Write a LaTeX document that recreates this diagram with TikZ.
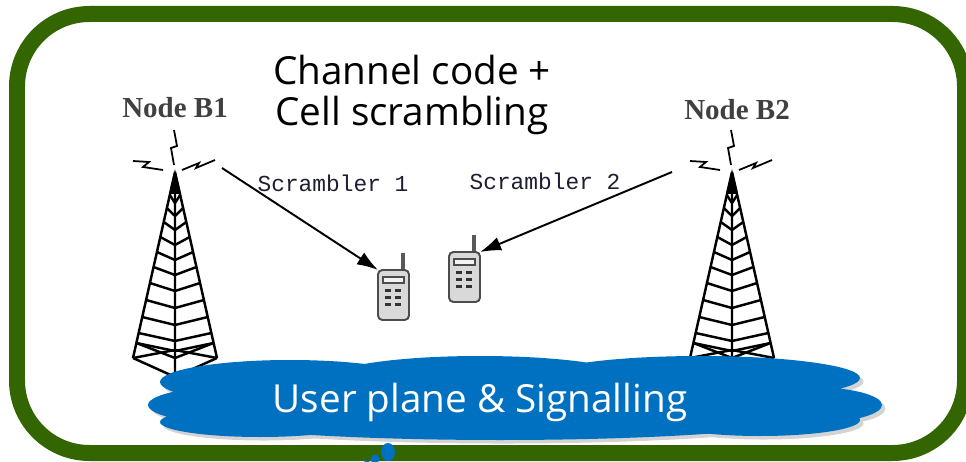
\documentclass[tikz,border=0pt]{standalone}
\usepackage{fontspec}
\usetikzlibrary{arrows.meta, shadows}

\newfontfamily\titlefont{Open Sans}
\newfontfamily\towerfont{Liberation Serif}
\newfontfamily\codefont{Liberation Mono}

\definecolor{framegreen}{RGB}{51,102,0}
\definecolor{cloudblue}{RGB}{0,112,192}
\definecolor{codeink}{RGB}{30,30,50}

\tikzset{
  mast/.style={line width=1.4pt, line join=round},
  link/.style={line width=1.1pt, -{Latex[length=12pt,width=8pt]}},
  % radio mast with its three little signal bolts
  tower/.pic={
    \coordinate (-top) at (0,0);
    \draw[mast] (0,0) -- (-42,186) (0,0) -- (42,186) (0,0) -- (0,205);
    \fill (0,-3) -- (-6,22) -- (6,22) -- cycle;
    \foreach \y in {23,36,50,65,80,95,111,128,145,161,171}
      \draw[mast] ({-42*\y/186},\y) -- (0,\y+8) -- ({42*\y/186},\y);
    \draw[mast] ({-42*171/186},171) -- (0,186) -- ({42*171/186},171);
    \draw[mast] (-42,186) -- (0,178) -- (42,186);
    \draw[mast] (-42,186) -- (0,205) -- (42,186);
    \draw[line width=1pt] (-1,-42) -- (2,-26) -- (-4,-24) -- (-1,-7);
    \draw[line width=1pt] (-42,-11) -- (-26,-10) -- (-32,-5) -- (-12,-2);
    \draw[line width=1pt] (7,-2) -- (24,-9) -- (21,-4) -- (40,-12);
  },
  % handset, origin at the top left of its case
  phone/.pic={
    \coordinate (-nw) at (0,0);
    \coordinate (-ne) at (31,0);
    \draw[line width=2pt, gray!70!black] (25,0) -- (25,-17);
    \draw[line width=1.1pt, draw=gray!60!black, fill=gray!30, rounded corners=2.5pt]
      (0,0) rectangle (31,50);
    \draw[line width=0.9pt, draw=gray!60!black, fill=gray!10] (5,7) rectangle (26,13);
    \foreach \r in {21,28,35}
      \foreach \c in {10,20}
        \fill[gray!40!black] (\c-3,\r-1.5) rectangle (\c+3,\r+1.5);
  }
}

\begin{document}
\begin{tikzpicture}[x=0.02cm, y=-0.02cm]
  \useasboundingbox (0,0) rectangle (966,462);

  % frame
  \draw[framegreen, line width=0.32cm, rounded corners=1.45cm] (17,14) rectangle (965,453);

  % masts
  \pic (bOne) at (175,172) {tower};
  \pic (bTwo) at (732,172) {tower};
  \node[font=\towerfont\bfseries\fontsize{16.5}{18}\selectfont, text=black!75] (labOne) at (175,108) {Node B1};
  \node[font=\towerfont\bfseries\fontsize{16.5}{18}\selectfont, text=black!75] (labTwo) at (737,110) {Node B2};

  % handsets
  \pic (ueOne) at (378,270) {phone};
  \pic (ueTwo) at (449,252) {phone};

  \coordinate (txOne) at (222,168);
  \coordinate (txTwo) at (672,172);
  \draw[link] (txOne) -- (ueOne-nw);
  \draw[link] (txTwo) -- (ueTwo-ne);

  \node[font=\codefont\fontsize{13}{15}\selectfont, text=codeink] (scrOne) at (333,183) {Scrambler 1};
  \node[font=\codefont\fontsize{13}{15}\selectfont, text=codeink] (scrTwo) at (545,181) {Scrambler 2};

  \node[font=\titlefont\fontsize{22}{23.5}\selectfont, align=center] (title) at (412,95)
    {Channel code +\\Cell scrambling};

  % cloud made of overlapping lobes
  \fill[cloudblue, drop shadow={opacity=0.35, shadow xshift=2pt, shadow yshift=-2pt}]
    (290,382) ellipse [x radius=130, y radius=22]
    (480,378) ellipse [x radius=150, y radius=22]
    (700,378) ellipse [x radius=160, y radius=22]
    (250,405) ellipse [x radius=102, y radius=20]
    (810,405) ellipse [x radius=72, y radius=18]
    (500,412) ellipse [x radius=330, y radius=28]
    (260,422) ellipse [x radius=100, y radius=15]
    (760,420) ellipse [x radius=100, y radius=16];
  \node[font=\titlefont\fontsize{22}{24}\selectfont, text=white] (plane) at (480,402)
    {User plane \& Signalling};

  % tail bubbles
  \fill[cloudblue] (388,452) ellipse [x radius=7, y radius=9];
  \fill[cloudblue] (375,459) circle [radius=4.5];
  \fill[cloudblue] (367,463) circle [radius=3];
\end{tikzpicture}
\end{document}
